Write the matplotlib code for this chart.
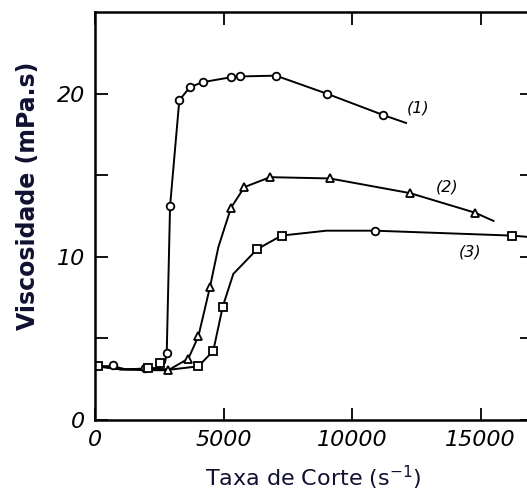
import matplotlib.pyplot as plt
import numpy as np

# curve (1) - circles
c1_x = [0, 700, 1200, 1960, 2500, 2720, 2790, 2920, 3280, 3700, 4190, 5280, 5640, 7040, 9010, 11190, 12100]
c1_y = [3.3, 3.3, 3.1, 3.15, 3.2, 3.5, 4.08, 13.1, 19.6, 20.4, 20.7, 21.0, 21.05, 21.1, 20.0, 18.7, 18.2]
m1_x = [700, 1960, 2790, 2920, 3280, 3700, 4190, 5280, 5640, 7040, 9010, 11190]
m1_y = [3.35, 3.2, 4.08, 13.1, 19.6, 20.4, 20.7, 21.0, 21.05, 21.1, 20.0, 18.7]

# curve (2) - triangles
c2_x = [0, 1000, 2000, 2850, 3630, 4020, 4470, 4800, 5290, 5810, 6810, 9140, 12260, 14790, 15500]
c2_y = [3.3, 3.1, 3.05, 3.05, 3.76, 5.12, 8.13, 10.6, 13.0, 14.27, 14.88, 14.8, 13.9, 12.7, 12.2]
m2_x = [2850, 3630, 4020, 4470, 5290, 5810, 6810, 9140, 12260, 14790]
m2_y = [3.05, 3.76, 5.12, 8.13, 13.0, 14.27, 14.88, 14.8, 13.9, 12.7]

# curve (3) - squares
c3_x = [0, 130, 1000, 2070, 3000, 4020, 4600, 4970, 5380, 6310, 7260, 9000, 10890, 16210, 17000]
c3_y = [3.3, 3.3, 3.1, 3.15, 3.1, 3.29, 4.23, 6.95, 8.95, 10.47, 11.3, 11.6, 11.6, 11.3, 11.2]
m3_x = [130, 2070, 2530, 4020, 4600, 4970, 6310, 7260, 16210]
m3_y = [3.3, 3.2, 3.5, 3.29, 4.23, 6.95, 10.47, 11.3, 11.3]
m3c_x = [10890]
m3c_y = [11.6]

curve_labels = ["(1)", "(2)", "(3)"]
label_x = [12570, 13680, 14590]
label_y = [19.1, 14.3, 10.3]

xticks = [0, 5000, 10000, 15000]
yticks = [0, 10, 20]

fig = plt.figure(figsize=(5.27, 4.93), dpi=100)
ax = fig.add_axes([95/527, 73/493, 437/527, 408/493])

mk = dict(mfc='white', mec='black', mew=1.3, ms=5.5, ls='none')
ax.plot(c1_x, c1_y, color='black', lw=1.4)
ax.plot(c2_x, c2_y, color='black', lw=1.4)
ax.plot(c3_x, c3_y, color='black', lw=1.4)
ax.plot(m1_x, m1_y, marker='o', **mk)
ax.plot(m2_x, m2_y, marker='^', **mk)
ax.plot(m3_x, m3_y, marker='s', **mk)
ax.plot(m3c_x, m3c_y, marker='o', **mk)

for t, x, y in zip(curve_labels, label_x, label_y):
    ax.text(x, y, t, fontsize=11.5, style='italic', ha='center', va='center')

ax.set_xlim(0, 17000)
ax.set_ylim(0, 25)
ax.set_xticks(xticks)
ax.set_yticks(yticks)
ax.set_yticks([5, 15], minor=True)
ax.tick_params(which='both', direction='in', length=9, width=1.3,
               top=True, right=True, labelsize=16, pad=7)
for lab in ax.get_xticklabels() + ax.get_yticklabels():
    lab.set_style('italic')
for s in ax.spines.values():
    s.set_linewidth(1.8)

ax.set_xlabel("Taxa de Corte (s$^{-1}$)", fontsize=16, color='#101030', labelpad=10)
ax.set_ylabel("Viscosidade (mPa.s)", fontsize=17, fontweight='bold', color='#101030')
ax.yaxis.set_label_coords(-0.125, 0.55)

plt.savefig("out.png", dpi=100)
